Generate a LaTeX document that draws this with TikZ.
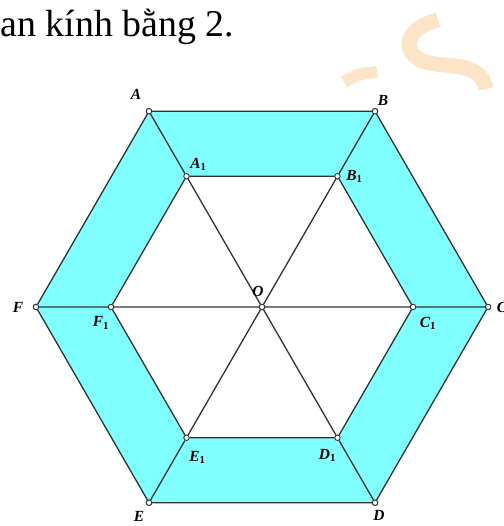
\documentclass[tikz,border=0pt]{standalone}
\usepackage{fontspec}
\setmainfont{Liberation Serif}
\definecolor{bandcyan}{RGB}{128,255,255}
\definecolor{edgegray}{RGB}{50,50,50}
\definecolor{logoorange}{RGB}{252,229,198}
\tikzset{
	pt/.style={circle, draw=edgegray, fill=white, inner sep=0pt, minimum size=5.5bp, line width=0.9bp},
	lbl/.style={font=\fontsize{15.5}{15.5}\selectfont\bfseries\itshape, inner sep=0pt},
}
\begin{document}
\begin{tikzpicture}[x=1bp, y=1bp, line width=1.3bp]
		\useasboundingbox (0,0) rectangle (504,526);
		% 水印
		\draw[logoorange, line width=15bp] (438,506) .. controls (412,500) and (398,480) .. (420,466) .. controls (442,456) and (480,468) .. (486,437);
		\draw[logoorange, line width=12bp] (344,444) .. controls (358,452) .. (377,454);
		
		% 标题
		\node[anchor=base west, inner sep=0pt, font=\fontsize{38}{38}\selectfont] (title) at (0,489) {an kính bằng 2.};
		
		\begin{scope}[shift={(262,219)}]
			% 顶点
			\node[pt] (O) at (0,0) {};
			\foreach \n/\a in {A/120, B/60, C/0, D/-60, E/-120, F/180}{
				\node[pt] (\n) at (\a:226) {};
				\node[pt] (\n1) at (\a:151) {};
			}
			
			% 六边形环
			\fill[bandcyan, even odd rule] (A.center) -- (B.center) -- (C.center) -- (D.center) -- (E.center) -- (F.center) -- cycle
				(A1.center) -- (B1.center) -- (C1.center) -- (D1.center) -- (E1.center) -- (F1.center) -- cycle;
			\draw[edgegray] (A) -- (B) -- (C) -- (D) -- (E) -- (F) -- (A);
			\draw[edgegray] (A1) -- (B1) -- (C1) -- (D1) -- (E1) -- (F1) -- (A1);
			\draw[edgegray] (A) -- (A1) (B) -- (B1) (C) -- (C1) (D) -- (D1) (E) -- (E1) (F) -- (F1);
			\draw[edgegray] (A1) -- (O) -- (D1) (B1) -- (O) -- (E1) (C1) -- (O) -- (F1);
			\foreach \n in {O, A, B, C, D, E, F, A1, B1, C1, D1, E1, F1}
				\node[pt] at (\n) {};
			
			% 标注
			\node[lbl] (lA) at ([shift={(-13,17)}]A.center) {A};
			\node[lbl] (lB) at ([shift={(8,11)}]B.center) {B};
			\node[lbl] (lC) at ([shift={(14,0)}]C.center) {C};
			\node[lbl] (lD) at ([shift={(4,-13)}]D.center) {D};
			\node[lbl] (lE) at ([shift={(-10,-14)}]E.center) {E};
			\node[lbl] (lF) at ([shift={(-18,0)}]F.center) {F};
			\node[lbl] (lO) at ([shift={(-4,16)}]O.center) {O};
			\node[lbl] (lA1) at ([shift={(12,12)}]A1.center) {A\textsubscript{\upshape 1}};
			\node[lbl] (lB1) at ([shift={(17,0)}]B1.center) {B\textsubscript{\upshape 1}};
			\node[lbl] (lC1) at ([shift={(15,-16)}]C1.center) {C\textsubscript{\upshape 1}};
			\node[lbl] (lD1) at ([shift={(-10,-18)}]D1.center) {D\textsubscript{\upshape 1}};
			\node[lbl] (lE1) at ([shift={(11,-20)}]E1.center) {E\textsubscript{\upshape 1}};
			\node[lbl] (lF1) at ([shift={(-10,-16)}]F1.center) {F\textsubscript{\upshape 1}};
		\end{scope}
	\end{tikzpicture}
\end{document}
